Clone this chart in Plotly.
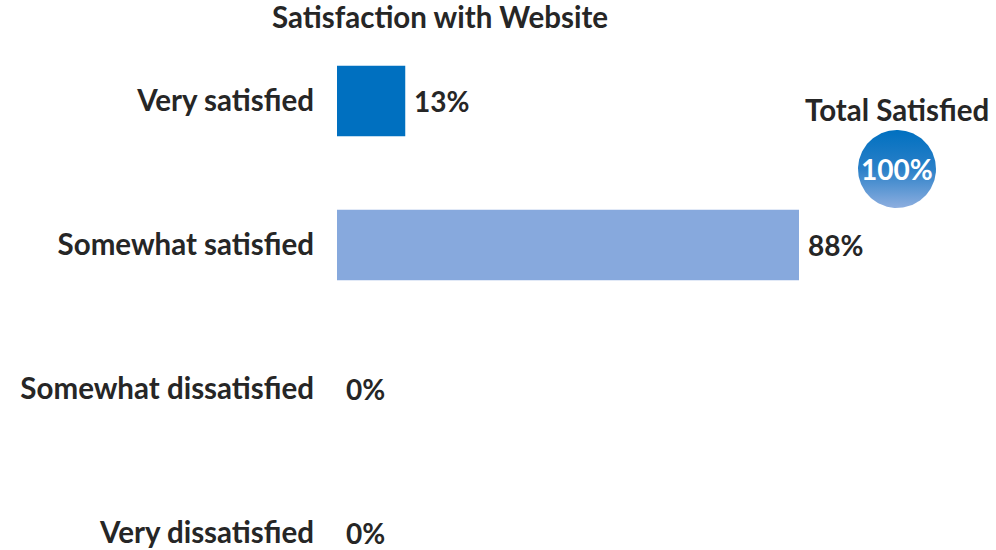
import numpy as np
import plotly.graph_objects as go

# data
categories = ["Very satisfied", "Somewhat satisfied", "Somewhat dissatisfied", "Very dissatisfied"]
percent = [13, 88, 0, 0]
bar_colors = ["#0070C0", "#87A9DD", "#87A9DD", "#87A9DD"]
total_satisfied = 100

FONT = "Lato"
TXT = "#262626"
FS = 29.5

W, H = 996, 550
L, R, T, B = 337, 0, 29, 0
pw, ph = W - L - R, H - T - B


def px_x(p):
    # screen pixel -> paper x
    return (p - L) / pw


def px_y(p):
    # screen pixel -> paper y
    return (H - B - p) / ph


fig = go.Figure()

fig.add_trace(go.Bar(
    y=categories, x=percent, orientation="h",
    marker=dict(color=bar_colors, line=dict(width=0)),
    cliponaxis=False, width=0.49, xaxis="x", yaxis="y", hoverinfo="skip",
))

# value labels
for c, v in zip(categories, percent):
    fig.add_annotation(x=v, y=c, xref="x", yref="y", text=f"<b>{v}%</b>",
                       showarrow=False, xanchor="left", yanchor="middle", xshift=7,
                       font=dict(family=FONT, size=28, color=TXT))

# badge circle with vertical gradient
t = np.linspace(0, 2 * np.pi, 200)
fig.add_trace(go.Scatter(
    x=np.cos(t), y=np.sin(t), mode="lines", fill="toself",
    line=dict(width=0, color="#0070C0"),
    fillgradient=dict(type="vertical",
                      colorscale=[[0, "#8DAEDF"], [0.5, "#2A80C8"], [1, "#0070C0"]]),
    xaxis="x2", yaxis="y2", hoverinfo="skip",
))

fig.update_layout(
    width=W, height=H,
    margin=dict(l=L, r=R, t=T, b=B),
    paper_bgcolor="white", plot_bgcolor="white",
    showlegend=False,
    font=dict(family=FONT, color=TXT),
    title=dict(text="<b>Satisfaction with Website</b>", x=440 / W, y=1 - 18 / H,
               xanchor="center", yanchor="middle",
               font=dict(family=FONT, size=FS, color=TXT)),
    xaxis=dict(domain=[0, 525 / pw], range=[0, 100], visible=False),
    yaxis=dict(type="category", categoryarray=categories, categoryorder="array",
               range=[(ph / 144) - 0.5, -0.5], showgrid=False, zeroline=False,
               showline=False, ticks="", ticklabelstandoff=22,
               tickprefix="<b>", ticksuffix="</b>",
               tickfont=dict(family=FONT, size=FS, color=TXT)),
    xaxis2=dict(domain=[px_x(858), px_x(936)], range=[-1, 1], visible=False, anchor="y2"),
    yaxis2=dict(domain=[px_y(208), px_y(130)], range=[-1, 1], visible=False, anchor="x2"),
    bargap=0.5,
)

fig.add_annotation(x=0, y=0, xref="x2", yref="y2", text=f"<b>{total_satisfied}%</b>",
                   showarrow=False, xanchor="center", yanchor="middle",
                   font=dict(family=FONT, size=28, color="white"))
fig.add_annotation(x=px_x(897), y=px_y(110), xref="paper", yref="paper",
                   text="<b>Total Satisfied</b>", showarrow=False,
                   xanchor="center", yanchor="middle",
                   font=dict(family=FONT, size=FS, color=TXT))

# drop the default 8px page margin so the figure fills the window
fig.write_html("out.html", config={"displayModeBar": False},
               post_script="document.body.style.margin='0px';")
